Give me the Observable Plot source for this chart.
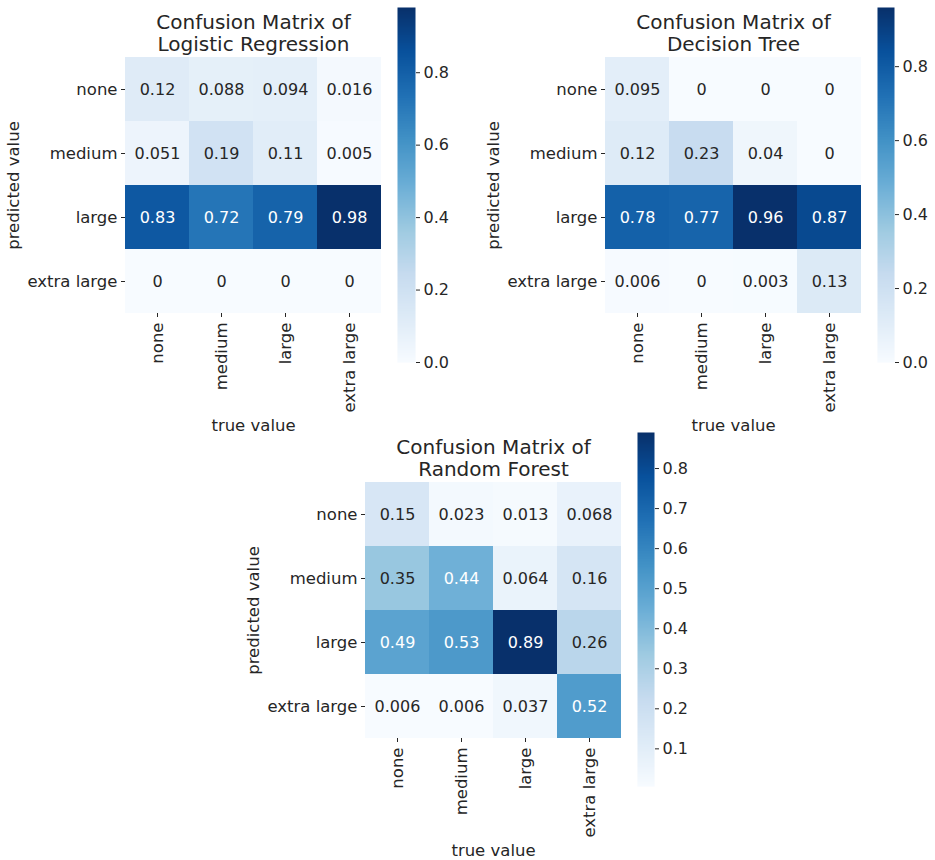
<!DOCTYPE html>
<html>
<head>
<meta charset="utf-8">
<script src="https://cdn.jsdelivr.net/npm/d3@7"></script>
<script src="https://cdn.jsdelivr.net/npm/@observablehq/plot@0.6"></script>
<style>
  body { margin: 0; background: #fff; }
  #figure { position: relative; width: 935px; height: 860px; overflow: hidden; font-family: "DejaVu Sans", sans-serif; }
  .box { position: absolute; }
  .box svg { overflow: visible; max-width: none; }
</style>
</head>
<body>
<div id="figure"></div>
<script>
// Class labels shared by both axes of every matrix
const classLabels = ["none", "medium", "large", "extra large"];

// Rows = predicted value, columns = true value
const logisticValues = [
  [0.12, 0.088, 0.094, 0.016],
  [0.051, 0.19, 0.11, 0.005],
  [0.83, 0.72, 0.79, 0.98],
  [0, 0, 0, 0]
];
const treeValues = [
  [0.095, 0, 0, 0],
  [0.12, 0.23, 0.04, 0],
  [0.78, 0.77, 0.96, 0.87],
  [0.006, 0, 0.003, 0.13]
];
const forestValues = [
  [0.15, 0.023, 0.013, 0.068],
  [0.35, 0.44, 0.064, 0.16],
  [0.49, 0.53, 0.89, 0.26],
  [0.006, 0.006, 0.037, 0.52]
];

// Colorbar tick labels
const logisticTicks = [0.0, 0.2, 0.4, 0.6, 0.8];
const treeTicks = [0.0, 0.2, 0.4, 0.6, 0.8];
const forestTicks = [0.1, 0.2, 0.3, 0.4, 0.5, 0.6, 0.7, 0.8];

// Sequential blues ramp (9 stops, linearly interpolated)
const bluesRamp = ["#f7fbff", "#deebf7", "#c6dbef", "#9ecae1", "#6baed6", "#4292c6", "#2171b5", "#08519c", "#08306b"];

const ink = "#262626";
const font = "'DejaVu Sans', sans-serif";
const figure = document.getElementById("figure");

const panels = [
  { title: "Confusion Matrix of\nLogistic Regression", values: logisticValues, ticks: logisticTicks, heat: [125, 57], bar: [397, 7, 18, 355] },
  { title: "Confusion Matrix of\nDecision Tree", values: treeValues, ticks: treeTicks, heat: [605, 57], bar: [877, 7, 17, 355] },
  { title: "Confusion Matrix of\nRandom Forest", values: forestValues, ticks: forestTicks, heat: [365, 482], bar: [637, 432, 17, 354] }
];

// Relative luminance (sRGB) used to pick dark or light annotation text
function luminance(c) {
  const rgb = d3.rgb(c);
  const lin = v => { v /= 255; return v <= 0.03928 ? v / 12.92 : Math.pow((v + 0.055) / 1.055, 2.4); };
  return 0.2126 * lin(rgb.r) + 0.7152 * lin(rgb.g) + 0.0722 * lin(rgb.b);
}

function place(node, left, top) {
  const div = document.createElement("div");
  div.className = "box";
  div.style.left = left + "px";
  div.style.top = top + "px";
  div.appendChild(node);
  figure.appendChild(div);
}

const cellSize = 64;
const side = cellSize * classLabels.length;
const labelSize = 16.5;

for (const p of panels) {
  const rows = [];
  p.values.forEach((row, i) => row.forEach((v, j) => rows.push({ predicted: classLabels[i], truth: classLabels[j], value: v })));
  const all = p.values.flat();
  const lo = d3.min(all), hi = d3.max(all);
  const stops = bluesRamp.map((_, k) => lo + (hi - lo) * k / (bluesRamp.length - 1));
  const colorOpts = { type: "linear", domain: stops, range: bluesRamp, interpolate: "rgb" };
  const ramp = d3.scaleLinear().domain(stops).range(bluesRamp).interpolate(d3.interpolateRgb);
  const isDark = d => luminance(ramp(d.value)) <= 0.408;

  const mL = 135, mT = 60, mR = 9, mB = 130;
  const heat = Plot.plot({
    width: mL + side + mR,
    height: mT + side + mB,
    marginLeft: mL, marginTop: mT, marginRight: mR, marginBottom: mB,
    style: { fontFamily: font, fontSize: "16px", color: ink, background: "transparent" },
    x: { domain: classLabels, padding: 0, label: null },
    y: { domain: classLabels, padding: 0, label: null },
    color: colorOpts,
    marks: [
      Plot.cell(rows, { x: "truth", y: "predicted", fill: "value" }),
      Plot.text(rows.filter(d => !isDark(d)), { x: "truth", y: "predicted", text: d => String(d.value), fill: ink, fontSize: 16 }),
      Plot.text(rows.filter(isDark), { x: "truth", y: "predicted", text: d => String(d.value), fill: "white", fontSize: 16 }),
      Plot.axisX({ anchor: "bottom", tickRotate: -90, tickSize: 4, tickPadding: 5, label: null, fontSize: labelSize }),
      Plot.axisY({ anchor: "left", tickSize: 4, tickPadding: 4, label: null, fontSize: labelSize }),
      Plot.text([p.title], { frameAnchor: "top", lineAnchor: "bottom", dy: -7, fontSize: 20, lineHeight: 1.1, fill: ink }),
      Plot.text(["true value"], { frameAnchor: "bottom", lineAnchor: "bottom", dy: 117, fontSize: labelSize, fill: ink }),
      Plot.text(["predicted value"], { frameAnchor: "left", textAnchor: "middle", rotate: -90, dx: -112, fontSize: labelSize, fill: ink })
    ]
  });
  place(heat, p.heat[0] - mL, p.heat[1] - mT);

  const [bx, by, bw, bh] = p.bar;
  const bar = Plot.plot({
    width: bw + 60,
    height: bh + 20,
    marginLeft: 0, marginRight: 60, marginTop: 10, marginBottom: 10,
    style: { fontFamily: font, fontSize: "16px", color: ink, background: "transparent" },
    x: { domain: [0, 1], axis: null },
    y: { domain: [lo, hi], axis: null },
    color: colorOpts,
    marks: [
      Plot.raster({ x1: 0, x2: 1, y1: lo, y2: hi, fill: (x, y) => y, width: 1, height: 400 }),
      Plot.axisY({ anchor: "right", ticks: p.ticks, tickFormat: d3.format(".1f"), tickSize: 4, tickPadding: 4, label: null, fontSize: 16 })
    ]
  });
  place(bar, bx, by - 10);
}
</script>
</body>
</html>
